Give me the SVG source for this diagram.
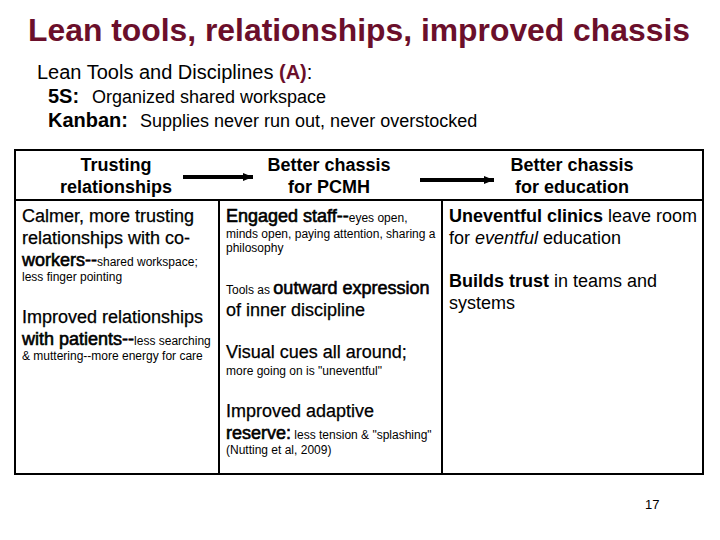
<svg xmlns="http://www.w3.org/2000/svg" width="720" height="540" viewBox="0 0 720 540">
<defs>
<style>
text{font-family:"Liberation Sans",Arial,sans-serif;fill:#000}
.title{font-size:32px;font-weight:bold;fill:#6b0f2b}
.sub{font-size:20px}
.lbl{font-size:20px;font-weight:bold}
.desc{font-size:18px}
.hd{font-size:18px;font-weight:bold;text-anchor:middle}
.b{font-size:18px;stroke:#000;stroke-width:0.25}
.h{stroke:#000;stroke-width:0.6}
.bd{font-weight:bold;stroke:none}
.s{font-size:12px;stroke:none}
.grid{fill:none;stroke:#000;stroke-width:2}
.arr{stroke:#000;stroke-width:4}
</style>
<marker id="ah" markerUnits="userSpaceOnUse" markerWidth="12" markerHeight="12" refX="10" refY="6" orient="auto">
<polygon points="0,2 10,6 0,10" fill="#000"/>
</marker>
</defs>
<rect width="720" height="540" fill="#fff"/>
<g id="heading">
<text class="title" x="28" y="41" textLength="662" lengthAdjust="spacingAndGlyphs">Lean tools, relationships, improved chassis</text>
<text class="sub" x="37" y="79">Lean Tools and Disciplines <tspan font-weight="bold" fill="#6b0f2b">(A)</tspan>:</text>
<text x="48" y="103"><tspan class="lbl">5S:</tspan><tspan class="desc" x="92">Organized shared workspace</tspan></text>
<text x="48" y="127"><tspan class="lbl">Kanban:</tspan><tspan class="desc" x="140">Supplies never run out, never overstocked</tspan></text>
</g>
<g id="table">
<rect class="grid" x="15" y="150" width="688" height="324"/>
<line class="grid" x1="15" y1="200" x2="703" y2="200"/>
<line class="grid" x1="219" y1="200" x2="219" y2="474"/>
<line class="grid" x1="442" y1="200" x2="442" y2="474"/>
</g>
<g id="node-trusting">
<text class="hd" x="116" y="171">Trusting</text>
<text class="hd" x="116" y="193">relationships</text>
<text class="b" x="22" y="222">Calmer, more trusting</text>
<text class="b" x="22" y="244">relationships with co-</text>
<text class="b" x="22" y="266"><tspan class="h">workers--</tspan><tspan class="s">shared workspace;</tspan></text>
<text class="s" x="22" y="281">less finger pointing</text>
<text class="b" x="22" y="323">Improved relationships</text>
<text class="b" x="22" y="345"><tspan class="h">with patients--</tspan><tspan class="s">less searching</tspan></text>
<text class="s" x="22" y="360">&amp; muttering--more energy for care</text>
</g>
<g id="node-pcmh">
<text class="hd" x="329" y="171">Better chassis</text>
<text class="hd" x="329" y="193">for PCMH</text>
<text class="b" x="226" y="222"><tspan class="h">Engaged staff--</tspan><tspan class="s">eyes open,</tspan></text>
<text class="s" x="226" y="238">minds open, paying attention, sharing a</text>
<text class="s" x="226" y="252">philosophy</text>
<text class="b" x="226" y="294"><tspan class="s">Tools as </tspan><tspan class="h">outward expression</tspan></text>
<text class="b" x="226" y="316">of inner discipline</text>
<text class="b" x="226" y="358">Visual cues all around;</text>
<text class="s" x="226" y="375">more going on is "uneventful"</text>
<text class="b" x="226" y="417">Improved adaptive</text>
<text class="b" x="226" y="439"><tspan class="h">reserve:</tspan><tspan class="s"> less tension &amp; "splashing"</tspan></text>
<text class="s" x="226" y="454">(Nutting et al, 2009)</text>
</g>
<g id="node-education">
<text class="hd" x="572" y="171">Better chassis</text>
<text class="hd" x="572" y="193">for education</text>
<text class="desc" x="449" y="222"><tspan class="bd">Uneventful clinics</tspan> leave room</text>
<text class="desc" x="449" y="244">for <tspan font-style="italic">eventful</tspan> education</text>
<text class="desc" x="449" y="287"><tspan class="bd">Builds trust</tspan> in teams and</text>
<text class="desc" x="449" y="309">systems</text>
</g>
<g id="connectors">
<line class="arr" x1="183" y1="177" x2="253" y2="177" marker-end="url(#ah)"/>
<line class="arr" x1="420" y1="180" x2="494" y2="180" marker-end="url(#ah)"/>
</g>
<text x="645" y="509" font-size="13">17</text>
</svg>
